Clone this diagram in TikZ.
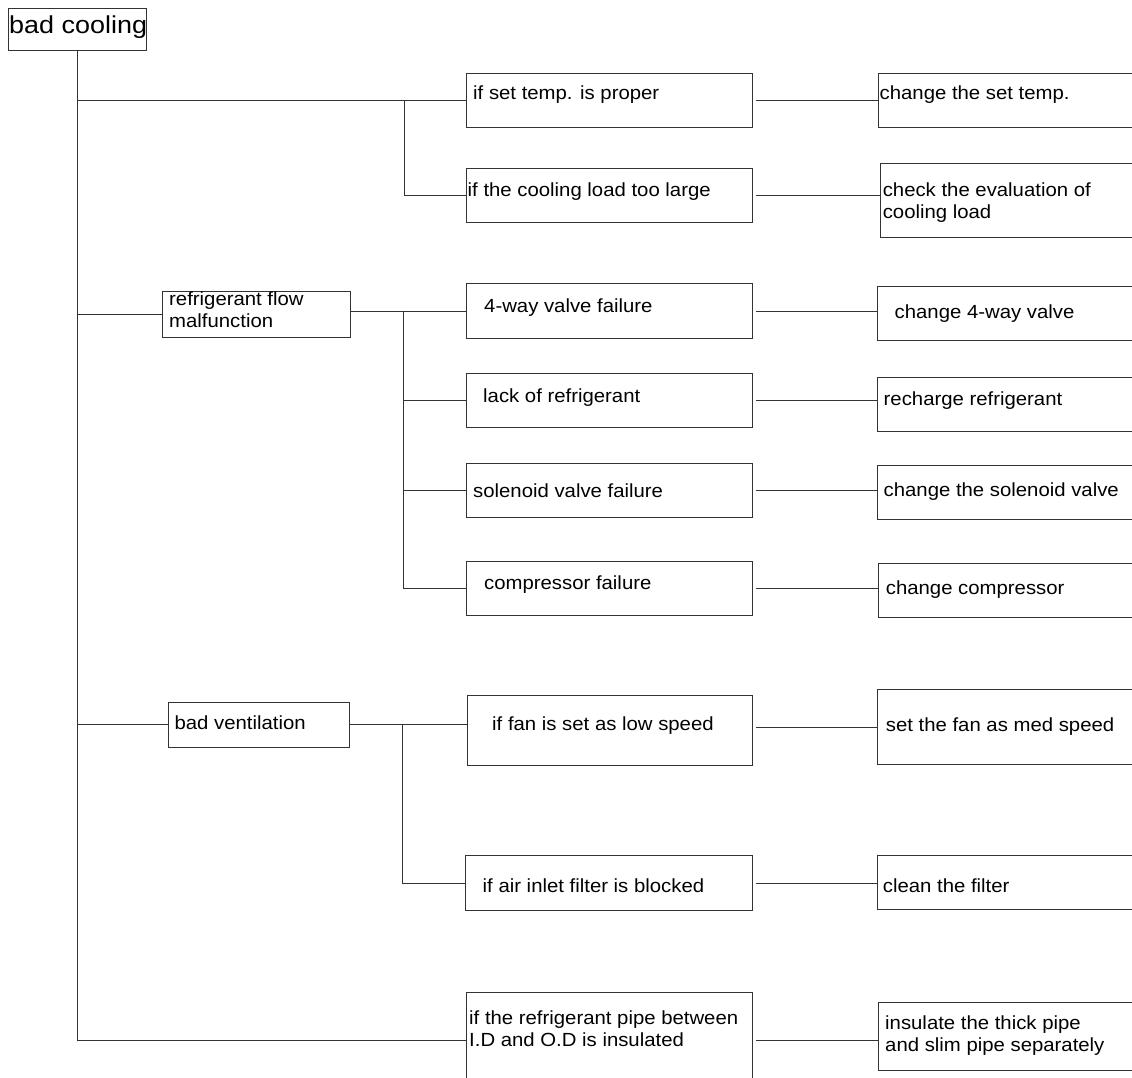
\documentclass[tikz,border=0pt]{standalone}
\usepackage{fontspec}
\setmainfont{Liberation Sans}
\newfontfamily\lblfont[FakeStretch=1.07]{Liberation Sans}
\newfontfamily\rootfont[FakeStretch=1.1]{Liberation Sans}
\usetikzlibrary{calc}
\begin{document}
\begin{tikzpicture}[x=1pt,y=-1pt,
  box/.style={draw=black!80, line width=0.9pt, rectangle, inner sep=0pt, anchor=north west},
  rbox/.style={box, minimum width=262},
  lbl/.style={anchor=base west, inner sep=0pt, font=\lblfont\fontsize{19}{22}\selectfont, align=left},
  conn/.style={draw=black!80, line width=0.9pt},
  gap/.style={conn, shorten <=3pt}]
\useasboundingbox (0,0) rectangle (1132,1077);
\fill[white] (0,0) rectangle (1132,1077);
\begin{scope}
\clip (0,0) rectangle (1132,1077);
% root
\node[box, minimum width=138, minimum height=42] (root) at (8,8) {};
\node[anchor=base west, inner sep=0pt, font=\rootfont\fontsize{24.5}{28}\selectfont] (roott) at (9,33) {bad cooling};
% left column
\node[box, minimum width=188, minimum height=46] (L1) at (162,290.5) {};
\node[lbl] (L1t) at (169,327) {refrigerant flow\\malfunction};
\node[box, minimum width=181, minimum height=45] (L2) at (167.5,701.7) {};
\node[lbl] (L2t) at (174.4,729.5) {bad ventilation};
% middle column
\node[box, minimum width=286, minimum height=54] (m1) at (466,72.7) {};
\node[lbl] (m1t) at (473,99.5) {if set temp. is proper};
\node[box, minimum width=286, minimum height=54.5] (m2) at (466,167.5) {};
\node[lbl] (m2t) at (467.5,196.5) {if the cooling load too large};
\node[box, minimum width=286, minimum height=55] (m3) at (466,283.3) {};
\node[lbl] (m3t) at (484,312.5) {4-way valve failure};
\node[box, minimum width=286, minimum height=54] (m4) at (466,372.7) {};
\node[lbl] (m4t) at (483,402.5) {lack of refrigerant};
\node[box, minimum width=286, minimum height=54.6] (m5) at (466,462.7) {};
\node[lbl] (m5t) at (473,497) {solenoid valve failure};
\node[box, minimum width=286, minimum height=54.3] (m6) at (466,560.7) {};
\node[lbl] (m6t) at (484,589.5) {compressor failure};
\node[box, minimum width=285, minimum height=70] (m7) at (467,695) {};
\node[lbl] (m7t) at (492,730.5) {if fan is set as low speed};
\node[box, minimum width=287.5, minimum height=55] (m8) at (464.5,855) {};
\node[lbl] (m8t) at (482.5,892) {if air inlet filter is blocked};
\node[box, minimum width=286, minimum height=96.6] (m9) at (466,991.7) {};
\node[lbl] (m9t) at (469,1046.5) {if the refrigerant pipe between\\I.D and O.D is insulated};
% right column
\node[rbox, minimum height=54] (r1) at (878,72.7) {};
\node[lbl] (r1t) at (879.5,99.5) {change the set temp.};
\node[rbox, minimum height=73.4] (r2) at (880,163.3) {};
\node[lbl] (r2t) at (882.6,218.5) {check the evaluation of\\cooling load};
\node[rbox, minimum height=54.3] (r3) at (877,285.7) {};
\node[lbl] (r3t) at (894.5,318) {change 4-way valve};
\node[rbox, minimum height=54.6] (r4) at (877,376.7) {};
\node[lbl] (r4t) at (883.5,405) {recharge refrigerant};
\node[rbox, minimum height=54] (r5) at (877,465.3) {};
\node[lbl] (r5t) at (883.5,496) {change the solenoid valve};
\node[rbox, minimum height=54.6] (r6) at (877.7,562.7) {};
\node[lbl] (r6t) at (885.7,594) {change compressor};
\node[rbox, minimum height=74.7] (r7) at (877.3,689.3) {};
\node[lbl] (r7t) at (885.7,731) {set the fan as med speed};
\node[rbox, minimum height=54.3] (r8) at (877.3,855) {};
\node[lbl] (r8t) at (882.7,892) {clean the filter};
\node[rbox, minimum height=68.3] (r9) at (878,1001.7) {};
\node[lbl] (r9t) at (885,1051) {insulate the thick pipe\\and slim pipe separately};
% trunk
\draw[conn] (root.south) -- (root.south |- m9.west) -- (m9.west);
\draw[conn] (root.south |- m1.west) -- (m1.west);
\draw[conn] (root.south |- L1.west) -- (L1.west);
\draw[conn] (root.south |- L2.west) -- (L2.west);
% group 1
\coordinate (j1) at (404,99.7);
\draw[conn] (j1) |- (m2.west);
% group 2
\draw[conn] (m3.west -| L1.east) -- (m3.west);
\coordinate (j2) at (403.5,310.8);
\draw[conn] (j2) |- (m4.west);
\draw[conn] (j2) |- (m5.west);
\draw[conn] (j2) |- (m6.west);
% group 3
\draw[conn] (L2.east) -- (L2.east -| m7.west);
\coordinate (j3) at (402.5,724.2);
\draw[conn] (j3) |- (m8.west);
% remedies
\draw[gap] (m1.east) -- (m1.east -| r1.west);
\draw[gap] (m2.east) -- (m2.east -| r2.west);
\draw[gap] (m3.east) -- (m3.east -| r3.west);
\draw[gap] (m4.east) -- (m4.east -| r4.west);
\draw[gap] (m5.east) -- (m5.east -| r5.west);
\draw[gap] (m6.east) -- (m6.east -| r6.west);
\draw[gap] (r7.west -| m7.east) -- (r7.west);
\draw[gap] (m8.east) -- (m8.east -| r8.west);
\draw[gap] (m9.east) -- (m9.east -| r9.west);
\end{scope}
\end{tikzpicture}
\end{document}
